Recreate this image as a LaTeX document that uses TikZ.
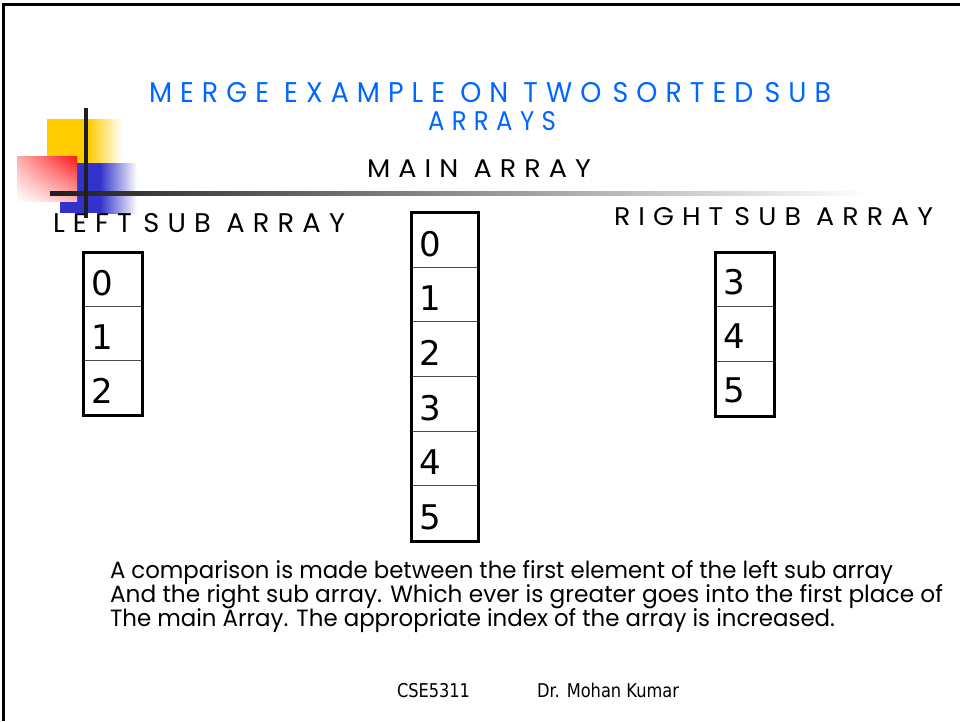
\documentclass[tikz,border=0pt]{standalone}
\usepackage{fontspec}
\usepackage{graphicx}
\setmainfont{DejaVu Sans}
\newfontfamily\comicfont{Poppins}
\newfontfamily\spacedfont[LetterSpace=30]{Poppins}
\newfontfamily\tahomafont{DejaVu Sans}
\usetikzlibrary{calc,shadings}
\definecolor{titleblue}{RGB}{0,102,255}
\definecolor{decoyellow}{RGB}{255,204,0}
\definecolor{decoblue}{RGB}{51,51,204}
\definecolor{decored}{RGB}{255,20,20}
\newlength\fitwd
\newcommand\fitw[2]{\settowidth\fitwd{#2}\scalebox{\fpeval{#1/\fitwd}}[1]{#2}}
\newcommand\smallgap{\hspace{0.42em}}
\tikzset{
  txt/.style={anchor=base west, inner sep=0pt, outer sep=0pt},
  cellbox/.style={draw=black!70, line width=1pt, anchor=north west, inner sep=0pt, minimum width=#1},
  cellbox/.default=58pt,
  outerbox/.style={draw=black, line width=3pt},
  digit/.style={anchor=base west, inner sep=0pt, font=\fontsize{34}{36}\tahomafont}
}
\begin{document}
\begin{tikzpicture}[x=1pt,y=-1pt]
\useasboundingbox (0,0) rectangle (960,721);
% frame
\draw[line width=2.5pt] (3.5,721) -- (3.5,4.5) -- (960,4.5);
% decoration
\fill[decoyellow] (47,119) rectangle (88.5,163);
\shade[left color=decoyellow, right color=white] (88,119) rectangle (122,163);
\fill[decoblue] (60,163) rectangle (100.5,213);
\shade[left color=decoblue, right color=white] (100,163) rectangle (137,213);
\shade[upper right=decored, upper left=decored!35, lower right=decored!30, lower left=white] (17,156) rectangle (77,201);
\shade[left color=black!88, right color=white] (50,191) rectangle (870,195);
\fill[black!88] (84,108) rectangle (88,218);
% titles
\node[txt, text=titleblue] (t1) at (149,102) {\fitw{682}{\fontsize{28.5}{30}\spacedfont MERGE EXAMPLE ON TWO\smallgap SORTED\smallgap SUB}};
\node[txt, text=titleblue] (t2) at (428,130) {\fitw{128}{\fontsize{27}{30}\spacedfont ARRAYS}};
\node[txt] (main) at (367,177) {\fitw{224}{\fontsize{25.5}{28}\spacedfont MAIN ARRAY}};
\node[txt] (lefttitle) at (53,232) {\fitw{292}{\fontsize{27}{30}\spacedfont LEFT\smallgap SUB ARRAY}};
\node[txt] (righttitle) at (614,225) {\fitw{319}{\fontsize{25.5}{28}\spacedfont RIGHT\smallgap SUB ARRAY}};
% left sub array
\node[cellbox, minimum height=54pt] (L0) at (83,252) {};
\node[cellbox, minimum height=54pt] (L1) at (83,306) {};
\node[cellbox, minimum height=54pt] (L2) at (83,360) {};
\draw[outerbox] (L0.north west) rectangle (L2.south east);
\node[digit] (l0) at ($(L0.north west)+(8,43)$) {0};
\node[digit] (l1) at ($(L1.north west)+(8,43)$) {1};
\node[digit] (l2) at ($(L2.north west)+(8,43)$) {2};
% main array
\foreach \i in {0,...,5}{
  \node[cellbox=66pt, minimum height=54.67pt] (M\i) at (411,212+54.67*\i) {};
  \node[digit] (m\i) at ($(M\i.north west)+(8,44)$) {\i};
}
\draw[outerbox] (M0.north west) rectangle (M5.south east);
% right sub array
\node[cellbox, minimum height=54.33pt] (R0) at (715,252) {};
\node[cellbox, minimum height=54.33pt] (R1) at (715,306.33) {};
\node[cellbox, minimum height=54.33pt] (R2) at (715,360.67) {};
\draw[outerbox] (R0.north west) rectangle (R2.south east);
\node[digit] (r0) at ($(R0.north west)+(8,42)$) {3};
\node[digit] (r1) at ($(R1.north west)+(8,42)$) {4};
\node[digit] (r2) at ($(R2.north west)+(8,42)$) {5};
% paragraph
\node[txt] (p1) at (110,578) {\fitw{783}{\fontsize{23.5}{24}\comicfont A comparison is made between the first element of the left sub array}};
\node[txt] (p2) at (110,602.5) {\fitw{833}{\fontsize{23.5}{24}\comicfont And the right sub array. Which ever is greater goes into the first place of}};
\node[txt] (p3) at (110,626.5) {\fitw{725}{\fontsize{23.5}{24}\comicfont The main Array. The appropriate index of the array is increased.}};
% footer
\node[txt] (f1) at (397,697) {\fitw{73}{\fontsize{19}{20}\tahomafont CSE5311}};
\node[txt] (f2) at (537,697) {\fitw{142}{\fontsize{19}{20}\tahomafont Dr. Mohan Kumar}};
\end{tikzpicture}
\end{document}
